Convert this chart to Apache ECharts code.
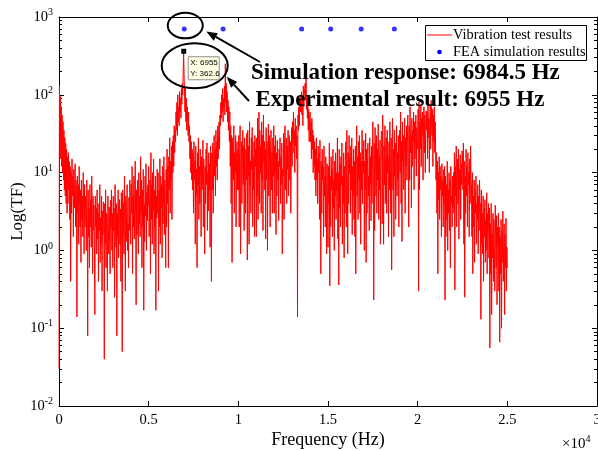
<!DOCTYPE html>
<html><head><meta charset="utf-8">
<script src="https://cdn.jsdelivr.net/npm/echarts@6/dist/echarts.min.js"></script>
<style>html,body{margin:0;padding:0;background:#fff}#c{width:598px;height:451px}</style>
</head><body><div id="c"></div>
<script>
// ---- data ----
const freqStep = 25; // Hz between samples of the measured transfer function
const tfValues = [
  0.03,130,25,95,15,70,12,55,10,45,8,35,6,28,5,24,4,20,3,16,
  4,18,6,14,2.5,12,0.4,10,3,15,5,9,1.5,11,7,3.5,13,2,8,4.5,
  0.14,9,3,7,1.2,12,4,2,6,0.7,8,2.5,5,1.5,10,3.5,0.9,7,2,5,
  4,1,8,2.5,0.08,6,1.5,3.5,0.6,7,2,4.5,1.1,9,3,0.5,5,1.8,3.8,1.2,
  0.15,5,2,3.5,0.9,6,1.4,4,0.4,3,1.8,7,0.7,2.6,1.2,5,0.3,3.2,1.6,4.2,
  2.5,0.04,4,1.2,6,0.6,3,1.7,0.3,5,2.2,0.9,3.6,1.4,0.5,4.4,2,6,1,3,
  0.6,5,1.8,3.5,0.25,7,2.4,1.1,4,0.08,3,1.5,6,0.8,2.8,4.5,1.2,3.4,0.4,5.5,
  2,0.05,6,1.6,4,0.9,9,2.5,0.3,5,1.3,3.5,7,1,2.2,0.6,4.8,1.8,8,3,
  1.2,7,3,12,0.5,5,2,9,1.4,4,14,2.5,0.2,6,1.6,8,3.5,0.9,10,2.2,
  5,1.5,16,3,8,0.6,6,2,11,0.17,4,1.3,9,2.8,13,1,5.5,2.4,7,3.8,
  12,1.5,4,8,0.5,18,2.5,7,1.2,10,3.2,15,0.9,6,2,9,0.17,5,2.6,11,
  3,10,0.3,6,2,15,1.2,9,3.5,7,0.8,12,2.2,5,16,1.6,8,4,0.6,11,
  2,20,4,12,0.6,16,6,28,3,14,8,22,2.5,25,10,30,12,40,18,35,
  25,60,35,80,30,100,45,70,40,110,60,90,50,120,75,140,100,200,362.6,180,
  110,60,120,45,90,35,70,50,30,60,25,40,15,30,10,25,8,20,6,18,
  3,25,8,14,1.2,22,5,11,0.6,18,7,28,2.5,12,4,20,9,1.5,16,6,
  8,26,2,15,5,0.9,12,4,20,7,24,1.8,10,3.2,18,6,13,1.1,22,9,
  0.4,18,6,24,3,13,30,9,20,5,35,12,25,8,40,15,30,45,20,55,
  40,80,50,100,60,120,45,90,70,130,55,250,80,140,60,110,45,85,35,70,
  25,60,12,40,4,30,0.7,22,28,8,40,3,18,10,30,2,14,25,6,20,
  6,30,2,18,40,0.9,12,25,4,15,35,7,22,1.8,28,10,3,20,8,32,
  0.75,35,9,22,1.2,45,7,14,3,28,11,38,2,16,6,25,1.5,30,12,20,
  1.5,28,5,50,2.5,18,60,4,35,10,22,3,45,8,30,1.8,55,14,25,6,
  20,1.4,38,8,25,1,15,42,5,30,12,2,22,35,6,18,3,28,9,40,
  3,22,10,30,1.6,18,5,26,8,14,2.4,20,12,28,4,16,7,24,0.9,11,
  9,32,2.5,20,40,6,15,28,4,22,11,35,5,18,30,8,25,3,14,38,
  12,45,25,60,18,35,10,50,22,40,15,30,0.14,55,35,70,40,90,60,100,
  60,110,55,90,40,130,70,95,120,140,85,190,65,100,50,80,35,65,25,50,
  60,25,45,15,50,20,35,10,30,12,25,8,20,5,28,8,15,4,22,10,
  18,2.5,26,6,0.5,14,3,20,8,12,1.5,22,5,9,2,16,7,0.9,13,4,
  1.1,12,4,24,0.35,9,2,16,6,11,1.5,20,3.5,8,1,14,5,18,2.5,10,
  6,28,1.4,10,0.36,20,3.5,13,2,16,7,24,1.2,9,4,18,0.8,12,3,22,
  25,2,35,8,0.9,18,4,30,10,15,3,22,6,28,1.6,12,5,20,2.5,14,
  1.5,22,0.5,12,40,5,16,2.5,25,8,30,3,18,1.2,14,6,35,4,20,10,
  26,1,14,6,32,0.7,20,3,12,24,5,9,1.8,28,7,16,2.4,22,4,11,
  45,9,0.23,24,1.8,38,15,5,30,3,20,8,42,2.5,16,6,26,1.2,12,34,
  30,2.2,55,12,1.2,22,7,40,4,18,28,3,35,10,16,1.5,25,6,45,14,
  3,28,0.56,16,50,6,20,1.5,35,9,24,2.5,14,40,5,18,8,30,2,22,
  35,10,60,4,25,1.3,45,14,30,6,20,50,3,28,12,40,8,22,55,16,
  2,40,8,70,18,30,3.5,50,12,35,25,60,6,45,15,28,55,9,38,20,
  25,65,0.3,80,6,45,20,75,12,50,30,60,8,40,70,18,55,10,35,62,
  35,60,15,90,28,50,10,40,75,20,85,45,30,65,12,55,25,70,18,45,
  20,8,18,3,14,0.5,10,4.5,16,2.5,12,6,9,1.5,13,5,8,2,11,4,
  12,0.23,9,1.5,7,2.5,14,1,6,3,10,1.8,8,0.6,12,4,5,2,9,3.5,
  10,3,18,0.31,12,5,22,2,8,15,4,20,1.4,11,6,17,2.5,13,7,19,
  16,6,24,1.2,14,0.25,9,3,20,5,12,2,18,7,10,1.5,15,4,22,8,
  7,1.5,10,0.5,5,2,8,0.7,6,3,9,1.2,4,2.5,7,0.9,5,1.8,8,3,
  4,0.13,6,1.2,3,0.9,5,0.4,3.5,1.5,4.5,0.7,2.5,1,5.5,0.5,3,1.8,4,0.8,
  3.5,0.056,2.2,0.5,4,0.15,1.6,0.8,3,0.4,2.5,1.1,0.3,3.8,1.4,0.6,2.8,0.2,2,1.2,
  3,0.3,2,0.066,1.5,0.5,2.5,0.1,1.8,0.7,3.2,0.4,1.2,2.2,0.15,1.6,0.6,2.6,0.3,1.1,
  0.6
];
const feaFreqs = [6984.5, 9150, 13530, 15150, 16850, 18700];
const feaValues = [700, 700, 700, 700, 700, 700];
const yMinorTicks = [0.02,0.03,0.04,0.05,0.06,0.07,0.08,0.09,
  0.2,0.3,0.4,0.5,0.6,0.7,0.8,0.9, 2,3,4,5,6,7,8,9,
  20,30,40,50,60,70,80,90, 200,300,400,500,600,700,800,900];
const peakTip = { x: 6955, y: 362.6 };
const seriesNames = ['Vibration test results', 'FEA simulation results'];
const simText = 'Simulation response: 6984.5 Hz';
const expText = 'Experimental result: 6955 Hz';
// --------------------------------------

const SERIF = 'Liberation Serif';
const chart = echarts.init(document.getElementById('c'), null, { renderer: 'canvas' });
const tfData = tfValues.map((v, i) => [i * freqStep, v]);
const feaData = feaFreqs.map((f, i) => [f, feaValues[i]]);

function xAx(pos, labels) {
  return {
    type: 'value', position: pos, min: 0, max: 30000, interval: 5000,
    axisLine: { show: true, onZero: false, lineStyle: { color: '#000', width: 1 } },
    axisTick: { show: true, inside: true, length: 5, lineStyle: { color: '#000' } },
    axisLabel: { show: labels, margin: 7, color: '#000', fontFamily: SERIF, fontSize: 14.5,
      formatter: v => String(v / 10000) },
    splitLine: { show: false }
  };
}
function yAx(pos, labels, minor) {
  const ax = {
    type: 'log', logBase: 10, position: pos, min: 0.01, max: 1000,
    axisLine: { show: !minor, onZero: false, lineStyle: { color: '#000', width: 1 } },
    axisTick: { show: true, inside: true, length: minor ? 3 : 5, lineStyle: { color: '#000' } },
    axisLabel: { show: labels, margin: 6, color: '#000', fontFamily: SERIF,
      formatter: v => '{b|10}{e|' + Math.round(Math.log10(v)) + '}',
      rich: { b: { fontSize: 14.5, fontFamily: SERIF, color: '#000' },
              e: { fontSize: 10, fontFamily: SERIF, color: '#000', padding: [0, 0, 9, 0] } } },
    splitLine: { show: false }
  };
  if (minor) ax.axisTick.customValues = yMinorTicks;
  return ax;
}
const yMain = yAx('left', true, false);
yMain.name = 'Log(TF)';
yMain.nameLocation = 'middle';
yMain.nameGap = 33;
yMain.nameMoveOverlap = false;
yMain.nameTextStyle = { fontFamily: SERIF, fontSize: 17, color: '#000' };
const xMain = xAx('bottom', true);
xMain.name = 'Frequency (Hz)';
xMain.nameLocation = 'middle';
xMain.nameGap = 25;
xMain.nameMoveOverlap = false;
xMain.nameTextStyle = { fontFamily: SERIF, fontSize: 18, color: '#000' };

chart.setOption({
  animation: false,
  backgroundColor: '#fff',
  grid: { left: 59, right: 1, top: 17, bottom: 45, containLabel: false, outerBoundsMode: 'none' },
  xAxis: [xMain, xAx('top', false)],
  yAxis: [yMain, yAx('right', false, false), yAx('left', false, true), yAx('right', false, true)],
  series: [
    { name: seriesNames[0], type: 'line', xAxisIndex: 0, yAxisIndex: 0, data: tfData,
      symbol: 'none', sampling: 'none', lineStyle: { color: '#ff0000', width: 1 }, z: 2 },
    { name: seriesNames[1], type: 'scatter', xAxisIndex: 0, yAxisIndex: 0, data: feaData,
      symbol: 'circle', symbolSize: 5, itemStyle: { color: '#0000ff' }, z: 3 }
  ]
});

function px(x, y) { return chart.convertToPixel({ seriesIndex: 0 }, [x, y]); }
function arrow(t, h) {
  const dx = h[0] - t[0], dy = h[1] - t[1];
  const len = Math.hypot(dx, dy), ux = dx / len, uy = dy / len;
  const L = 11, W = 4.2;
  const bx = h[0] - ux * L, by = h[1] - uy * L;
  return [
    { type: 'line', shape: { x1: t[0], y1: t[1], x2: bx, y2: by }, style: { stroke: '#000', lineWidth: 2 }, z: 100 },
    { type: 'polygon', shape: { points: [h, [bx - uy * W, by + ux * W], [bx + uy * W, by - ux * W]] },
      style: { fill: '#000' }, z: 100 }
  ];
}

const sim = px(feaFreqs[0], feaValues[0]);
const pk = px(peakTip.x, peakTip.y);
const e1 = { cx: sim[0] + 1, cy: sim[1] - 3.5, rx: 17.5, ry: 12.8 };
const e2 = { cx: pk[0] + 11, cy: pk[1] + 14.5, rx: 33, ry: 22.5 };

const graphics = [
  // legend
  { type: 'rect', shape: { x: 425.5, y: 25.5, width: 161, height: 35 }, style: { fill: '#fff', stroke: '#000', lineWidth: 1 }, z: 120 },
  { type: 'line', shape: { x1: 427, y1: 35, x2: 452, y2: 35 }, style: { stroke: '#ff0000', lineWidth: 1 }, z: 121 },
  { type: 'text', x: 453, y: 35, style: { text: seriesNames[0], fontFamily: SERIF, fontSize: 14.4, fill: '#000', verticalAlign: 'middle' }, z: 121 },
  { type: 'circle', shape: { cx: 439.5, cy: 52, r: 2.3 }, style: { fill: '#0000ff' }, z: 121 },
  { type: 'text', x: 453, y: 52, style: { text: seriesNames[1], fontFamily: SERIF, fontSize: 14.4, fill: '#000', verticalAlign: 'middle' }, z: 121 },
  // ellipses
  { type: 'ellipse', shape: e1, style: { fill: null, stroke: '#000', lineWidth: 2 }, z: 100 },
  { type: 'ellipse', shape: e2, style: { fill: null, stroke: '#000', lineWidth: 2 }, z: 100 },
  // data tip
  { type: 'rect', shape: { x: pk[0] - 2.5, y: pk[1] - 2.5, width: 5, height: 5 }, style: { fill: '#000' }, z: 110 },
  { type: 'rect', shape: { x: pk[0] + 4.5, y: pk[1] + 5.5, width: 31, height: 23 }, style: { fill: '#ffffe1', stroke: '#8c8c8c', lineWidth: 1 }, z: 110 },
  { type: 'text', x: pk[0] + 6.5, y: pk[1] + 12, style: { text: 'X: ' + peakTip.x, fontFamily: 'Liberation Sans', fontSize: 8, fill: '#000', verticalAlign: 'middle' }, z: 111 },
  { type: 'text', x: pk[0] + 6.5, y: pk[1] + 22.5, style: { text: 'Y: ' + peakTip.y, fontFamily: 'Liberation Sans', fontSize: 8, fill: '#000', verticalAlign: 'middle' }, z: 111 },
  // annotation texts
  { type: 'text', x: 251, y: 73, style: { text: simText, fontFamily: SERIF, fontWeight: 'bold', fontSize: 23, fill: '#000', verticalAlign: 'middle' }, z: 105 },
  { type: 'text', x: 255.5, y: 100, style: { text: expText, fontFamily: SERIF, fontWeight: 'bold', fontSize: 23, fill: '#000', verticalAlign: 'middle' }, z: 105 },
  // x10^4
  { type: 'text', x: 562, y: 444, style: { text: '{b|×10}{e|4}', fontFamily: SERIF, fill: '#000', verticalAlign: 'middle',
      rich: { b: { fontSize: 15, fontFamily: SERIF, fill: '#000' }, e: { fontSize: 10, fontFamily: SERIF, fill: '#000', padding: [0, 0, 9, 0] } } }, z: 105 }
].concat(arrow([260, 62], [e1.cx + 21, e1.cy + 6]), arrow([249, 101], [e2.cx + 32, e2.cy + 11]));

chart.setOption({ graphic: { elements: graphics } });
</script>
</body></html>
